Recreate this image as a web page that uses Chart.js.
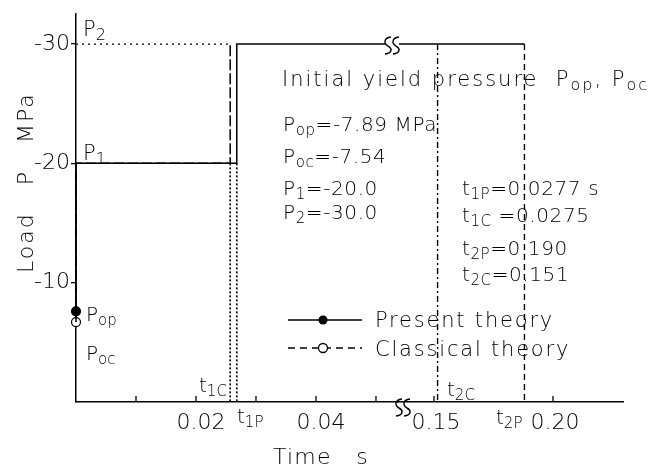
<!DOCTYPE html>
<html>
<head>
<meta charset="utf-8">
<script src="https://cdn.jsdelivr.net/npm/chart.js@4.4.1/dist/chart.umd.min.js"></script>
<style>
  html, body { margin: 0; padding: 0; background: #fff; }
  #wrap { width: 665px; height: 470px; }
</style>
</head>
<body>
<div id="wrap"><canvas id="chart"></canvas></div>
<script>
// ---- data ----
// time axis is broken: left part and right part of the axis
const leftRange = [0, 0.05367];
const rightRange = [0.13487, 0.22941];
const leftTicks = [0.01, 0.02, 0.03, 0.04, 0.05];
const leftTickLabels = ['', '0.02', '', '0.04', ''];
const rightTicks = [0.15, 0.20];
const rightTickLabels = ['0.15', '0.20'];
const loadTicks = [-10, -20, -30];

// [present, classical]
const yieldP = [-7.6, -6.7];      // Pop, Poc at t = 0
const t1 = [0.0268, 0.0257];      // t1P, t1C
const t2 = [0.188, 0.1515];       // t2P, t2C
const stepP = [-20, -30];         // P1, P2

const INK = '#000';
const FAMILY = '"DejaVu Sans", sans-serif';
const WEIGHT = '200';

// ---- series built from the values above ----
const presentLeft = [
  { x: 0, y: yieldP[0] }, { x: 0, y: stepP[0] },
  { x: t1[0], y: stepP[0] }, { x: t1[0], y: stepP[1] },
  { x: leftRange[1], y: stepP[1] },
];
const presentRight = [{ x: rightRange[0], y: stepP[1] }, { x: t2[0], y: stepP[1] }];
const classicLeft = [
  { x: 0, y: yieldP[1] }, { x: 0, y: stepP[0] },
  { x: t1[1], y: stepP[0] }, { x: t1[1], y: stepP[1] },
];
const p2Guide = [{ x: 0, y: stepP[1] }, { x: t1[1], y: stepP[1] }];

function drop(t, from) { return [{ x: t, y: from }, { x: t, y: 0 }]; }

function lineSet(data, axis, dash, width) {
  return {
    data, xAxisID: axis, yAxisID: 'y', showLine: true, pointRadius: 0,
    borderColor: INK, borderWidth: width || 1.5, borderDash: dash || [],
    clip: false, tension: 0,
  };
}

// ---- rich text helper (subscripts written as _{..}) ----
function drawRich(ctx, x, y, spec, size, spacing) {
  const re = /_\{([^}]*)\}/g;
  const pieces = [];
  let last = 0, m;
  while ((m = re.exec(spec))) {
    if (m.index > last) pieces.push([spec.slice(last, m.index), false]);
    pieces.push([m[1], true]);
    last = re.lastIndex;
  }
  if (last < spec.length) pieces.push([spec.slice(last), false]);
  let cx = x;
  ctx.letterSpacing = (spacing || 0) + 'px';
  for (const [txt, sub] of pieces) {
    const s = sub ? Math.round(size * 0.75) : size;
    ctx.font = `${WEIGHT} ${s}px ${FAMILY}`;
    ctx.fillText(txt, cx, sub ? y + size * 0.18 : y);
    cx += ctx.measureText(txt).width;
  }
  ctx.letterSpacing = '0px';
}

const annotations = [
  // [text, x, baseline, size, spacing]
  ['P_{2}', 83, 36, 21, 0],
  ['P_{1}', 83, 160, 21, 0],
  ['Initial yield pressure  P_{op}, P_{oc}', 282, 86, 21, 2],
  ['P_{op}=-7.89 MPa', 283, 131, 20, 0.6],
  ['P_{oc}=-7.54', 283, 163, 20, 0.6],
  ['P_{1}=-20.0', 283, 195, 20, 0.6],
  ['P_{2}=-30.0', 283, 219, 20, 0.6],
  ['t_{1P}=0.0277 s', 462, 195, 20, 0.6],
  ['t_{1C} =0.0275', 462, 222, 20, 0.6],
  ['t_{2P}=0.190', 462, 255, 20, 0.6],
  ['t_{2C}=0.151', 462, 281, 20, 0.6],
  ['P_{op}', 86, 321, 20, 0],
  ['P_{oc}', 86, 360, 20, 0],
  ['t_{1C}', 199, 392, 20, 0],
  ['t_{1P}', 237, 423, 20, 0],
  ['t_{2C}', 447, 396, 20, 0],
  ['t_{2P}', 496, 424, 20, 0],
  ['Present theory', 375, 327, 21, 1.8],
  ['Classical theory', 375, 356, 21, 1.8],
  ['Time   s', 273, 464, 22, 1.2],
];

function breakMark(ctx, x, y) {
  ctx.save();
  ctx.fillStyle = '#fff';
  ctx.fillRect(x - 7, y - 3, 14, 4);
  ctx.strokeStyle = INK;
  ctx.lineWidth = 1.4;
  for (const dx of [-4, 4]) {
    const x0 = x + dx;
    ctx.beginPath();
    ctx.moveTo(x0 + 3, y - 8);
    ctx.bezierCurveTo(x0 - 5, y - 7, x0 - 4, y - 1, x0, y + 1);
    ctx.bezierCurveTo(x0 + 4, y + 3, x0 + 5, y + 8, x0 - 3, y + 9);
    ctx.stroke();
  }
  ctx.restore();
}

const figurePlugin = {
  id: 'figure',
  afterDraw(chart) {
    const { ctx } = chart;
    const xa = chart.scales.xa, xb = chart.scales.xb, ys = chart.scales.y;
    const axisY = xa.top;
    ctx.save();
    // inward ticks on the time axis
    ctx.strokeStyle = INK;
    ctx.lineWidth = 1.3;
    ctx.beginPath();
    leftTicks.forEach(v => { const px = xa.getPixelForValue(v); ctx.moveTo(px, axisY); ctx.lineTo(px, axisY - 6); });
    rightTicks.forEach(v => { const px = xb.getPixelForValue(v); ctx.moveTo(px, axisY); ctx.lineTo(px, axisY - 6); });
    ctx.stroke();
    // axis breaks
    breakMark(ctx, xa.right + 5, axisY + 5);
    breakMark(ctx, xa.right - 6, ys.getPixelForValue(stepP[1]) + 1);
    // texts
    ctx.fillStyle = INK;
    ctx.textBaseline = 'alphabetic';
    ctx.textAlign = 'left';
    annotations.forEach(([txt, x, y, size, sp]) => drawRich(ctx, x, y, txt, size, sp));
    // y title
    ctx.save();
    ctx.translate(33, 273);
    ctx.rotate(-Math.PI / 2);
    drawRich(ctx, 0, 0, 'Load   P   MPa', 22, 2);
    ctx.restore();
    // legend
    const legendY = [320, 348];
    ctx.lineWidth = 1.3;
    ctx.beginPath();
    ctx.setLineDash([]);
    ctx.moveTo(288, legendY[0]); ctx.lineTo(362, legendY[0]);
    ctx.stroke();
    ctx.beginPath();
    ctx.setLineDash([7, 5]);
    ctx.moveTo(288, legendY[1]); ctx.lineTo(362, legendY[1]);
    ctx.stroke();
    ctx.setLineDash([]);
    ctx.beginPath();
    ctx.arc(323, legendY[0], 4.5, 0, Math.PI * 2);
    ctx.fillStyle = INK; ctx.fill();
    ctx.beginPath();
    ctx.arc(323, legendY[1], 4.5, 0, Math.PI * 2);
    ctx.fillStyle = '#fff'; ctx.fill(); ctx.stroke();
    ctx.restore();
  }
};

const tickFont = { family: FAMILY, size: 22, weight: WEIGHT };

new Chart(document.getElementById('chart'), {
  type: 'scatter',
  data: {
    datasets: [
      lineSet(presentLeft, 'xa'),
      lineSet(presentRight, 'xb'),
      lineSet(classicLeft, 'xa', [11, 3]),
      lineSet(p2Guide, 'xa', [2, 4], 1.3),
      lineSet(drop(t1[0], stepP[0]), 'xa', [2, 2], 1.6),
      lineSet(drop(t1[1], stepP[0]), 'xa', [2, 2], 1.6),
      lineSet(drop(t2[0], stepP[1]), 'xb', [6, 4], 1.4),
      lineSet(drop(t2[1], stepP[1]), 'xb', [6, 3, 2, 3], 1.4),
      {
        data: [{ x: 0, y: yieldP[0] }], xAxisID: 'xa', yAxisID: 'y', clip: false,
        pointRadius: 4.5, pointBackgroundColor: INK, pointBorderColor: INK, pointBorderWidth: 1.2,
      },
      {
        data: [{ x: 0, y: yieldP[1] }], xAxisID: 'xa', yAxisID: 'y', clip: false,
        pointRadius: 4.5, pointBackgroundColor: '#fff', pointBorderColor: INK, pointBorderWidth: 1.2,
      },
    ],
  },
  options: {
    responsive: true,
    maintainAspectRatio: false,
    animation: false,
    layout: { padding: { left: 0, top: 12, right: 42, bottom: 0 } },
    plugins: { legend: { display: false }, tooltip: { enabled: false } },
    scales: {
      xa: {
        type: 'linear', position: 'bottom', stack: 'time', stackWeight: 322,
        min: leftRange[0], max: leftRange[1],
        afterBuildTicks: s => { s.ticks = leftTicks.map(v => ({ value: v })); },
        afterFit: s => { s.height = 68; },
        grid: { display: false, drawTicks: false },
        border: { display: true, color: INK, width: 1.5 },
        ticks: {
          color: INK, font: tickFont, padding: 8, labelOffset: 5, maxRotation: 0, autoSkip: false,
          callback: (v, i) => leftTickLabels[i],
        },
      },
      xb: {
        type: 'linear', position: 'bottom', stack: 'time', stackWeight: 225,
        min: rightRange[0], max: rightRange[1],
        afterBuildTicks: s => { s.ticks = rightTicks.map(v => ({ value: v })); },
        afterFit: s => { s.height = 68; },
        grid: { display: false, drawTicks: false },
        border: { display: true, color: INK, width: 1.5 },
        ticks: {
          color: INK, font: tickFont, padding: 8, labelOffset: 2, maxRotation: 0, autoSkip: false,
          callback: (v, i) => rightTickLabels[i],
        },
      },
      y: {
        type: 'linear', position: 'left', reverse: true,
        min: -32.5, max: 0,
        afterBuildTicks: s => { s.ticks = loadTicks.map(v => ({ value: v })); },
        afterFit: s => { s.width = 76; },
        grid: { drawOnChartArea: false, tickLength: 5, color: INK, lineWidth: 1.3 },
        border: { display: true, color: INK, width: 1.5 },
        ticks: { color: INK, font: tickFont, padding: 1 },
      },
    },
  },
  plugins: [figurePlugin],
});
</script>
</body>
</html>
